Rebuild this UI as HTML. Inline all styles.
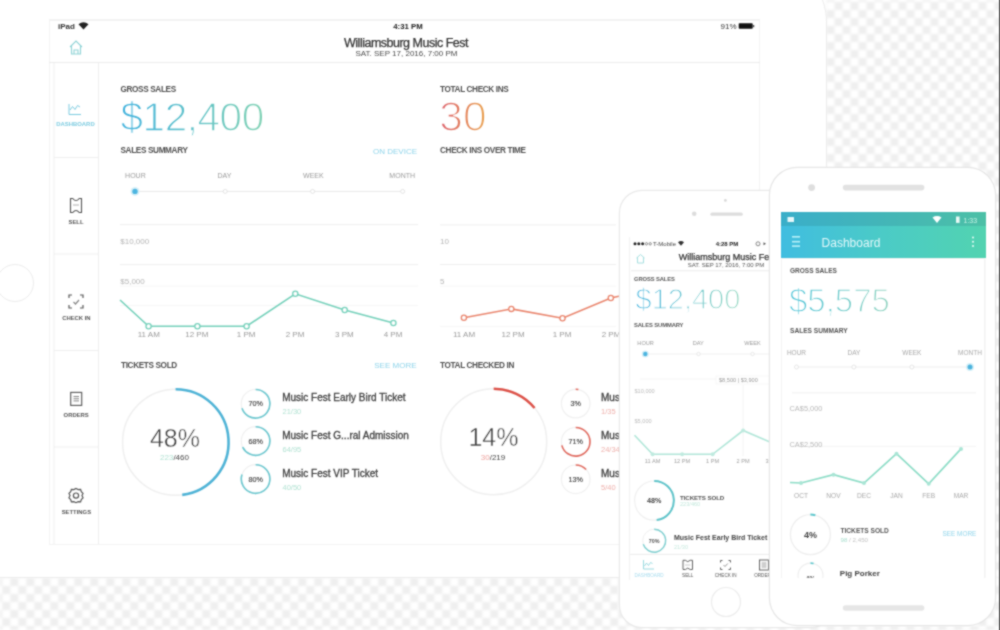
<!DOCTYPE html>
<html><head><meta charset="utf-8">
<style>
*{box-sizing:border-box;margin:0;padding:0}
html,body{width:1000px;height:630px;overflow:hidden;background:#fff}
body{position:relative;font-family:"Liberation Sans",sans-serif;color:#444}
.ck{position:absolute;background:repeating-conic-gradient(#efefef 0 25%,#fff 0 50%);background-size:16px 16px;filter:blur(0.9px)}
.ipad{position:absolute;left:-80px;top:-40px;width:906px;height:617px;background:#fff;border-radius:62px;box-shadow:0 0 0 1px #ececec}
.ipad-home{position:absolute;left:-4px;top:264px;width:38px;height:38px;border-radius:50%;border:1.5px solid #ececec}
.screen{position:absolute;left:49px;top:18.5px;width:711px;height:526px;background:#fff;border:1px solid #f3f3f3;border-top:2px solid #f3f3f3}
svg{position:absolute;left:0;top:0;overflow:visible}
text{font-family:"Liberation Sans",sans-serif}
.lb{font-size:8.2px;font-weight:bold;fill:#505050;letter-spacing:-0.35px}
.ax{font-size:8px;fill:#b5b5b5}
.xl{font-size:8px;fill:#9a9a9a;text-anchor:middle}
.sl{font-size:7px;fill:#9a9a9a;text-anchor:middle}
.nav{font-size:5.9px;font-weight:bold;fill:#555;text-anchor:middle}
</style></head><body><svg width="0" height="0" style="position:absolute"><filter id="soft" x="0" y="0" width="1" height="1" color-interpolation-filters="sRGB"><feConvolveMatrix order="3" kernelMatrix="1 2 1 2 8 2 1 2 1" divisor="20" edgeMode="duplicate"/></filter></svg>
<div id="root" style="position:absolute;left:0;top:0;width:1000px;height:630px;overflow:hidden;filter:url(#soft)">
<div class="ck" style="left:826px;top:0;width:174px;height:630px;background-position:0.5px 2px"></div>
<div class="ck" style="left:0;top:577px;width:1000px;height:53px;background-position:2.4px 1px"></div>
<div class="ipad"></div>
<div class="ipad-home"></div>
<div class="screen"></div>

<svg width="1000" height="630" viewBox="0 0 1000 630">
<defs>
 <linearGradient id="gBlue" x1="0" x2="1" y1="0" y2="0"><stop offset="0" stop-color="#3fb1dd"/><stop offset="1" stop-color="#7fd1b3"/></linearGradient>
 <linearGradient id="gBlueI" x1="0" x2="1" y1="0" y2="0"><stop offset="0" stop-color="#3fb1dd"/><stop offset="1" stop-color="#8fd5bd"/></linearGradient>
 <linearGradient id="gRed" x1="0" x2="1" y1="0" y2="0"><stop offset="0" stop-color="#dc5f6c"/><stop offset="1" stop-color="#e9a24e"/></linearGradient>
</defs>
<!-- status bar -->
<text x="58" y="29" style="font-size:8px;font-weight:bold;fill:#333">iPad</text>
<path d="M78.5 24.2 Q83.5 20.5 88.5 24.2 L83.5 29.5 Z" fill="#222"/>
<text x="408" y="28.8" style="font-size:7.8px;font-weight:bold;fill:#222;text-anchor:middle">4:31 PM</text>
<text x="720.5" y="28.6" style="font-size:8px;fill:#333">91%</text>
<rect x="738.7" y="23.3" width="14" height="5.5" rx="0.8" fill="#111"/>
<rect x="752.8" y="25" width="1.5" height="2.2" fill="#555"/>
<!-- header -->
<g fill="none" stroke="#8fd3d6" stroke-width="1.1">
 <path d="M70 47 L76 41 L82 47 M71.5 45.5 V54 H80.5 V45.5 M74 54 V50 H78 V54"/>
</g>
<text x="406" y="46.8" style="font-size:12.5px;fill:#333;stroke:#333;stroke-width:0.25px;text-anchor:middle;letter-spacing:-0.5px">Williamsburg Music Fest</text>
<text x="406.5" y="56.2" style="font-size:8px;fill:#4a4a4a;text-anchor:middle">SAT. SEP 17, 2016, 7:00 PM</text>
<line x1="49" y1="62.5" x2="760" y2="62.5" stroke="#ececec" stroke-width="1.2"/>
<!-- sidebar -->
<line x1="98.5" y1="63" x2="98.5" y2="544" stroke="#eeeeee" stroke-width="1"/>
<line x1="54" y1="63" x2="54" y2="544" stroke="#efefef" stroke-width="1"/>
<g stroke="#efefef" stroke-width="1">
 <line x1="54" y1="157.5" x2="98" y2="157.5"/>
 <line x1="54" y1="254" x2="98" y2="254"/>
 <line x1="54" y1="350.5" x2="98" y2="350.5"/>
 <line x1="54" y1="447" x2="98" y2="447"/>
</g>
<!-- dashboard icon -->
<g fill="none" stroke="#7ccbe0" stroke-width="1">
 <path d="M69 104 V114.5 H81"/>
 <path d="M70 110 L72.5 106.5 L75 109.5 L77.5 105.5 L80 107"/>
</g>
<text x="75.5" y="126.3" class="nav" style="fill:#7ccbe0">DASHBOARD</text>
<!-- sell icon -->
<path d="M70.5 198.5 H72.8 Q76 202.6 79.2 198.5 H81.5 V212.5 H79.2 Q76 208.4 72.8 212.5 H70.5 Z" fill="none" stroke="#555" stroke-width="1.1"/>
<line x1="73" y1="205" x2="79" y2="205" stroke="#999" stroke-width="0.8"/>
<text x="76" y="223.6" class="nav">SELL</text>
<!-- check in icon -->
<g fill="none" stroke="#555" stroke-width="1.2">
 <path d="M69 298 V295 H72 M80 295 H83 V298 M83 305 V308 H80 M72 308 H69 V305"/>
 <path d="M73.5 302 L75.5 304 L79 300" stroke="#888"/>
</g>
<text x="76.4" y="320.3" class="nav">CHECK IN</text>
<!-- orders icon -->
<rect x="70.7" y="392.4" width="11" height="13" fill="none" stroke="#555" stroke-width="1.1"/>
<g stroke="#777" stroke-width="0.9"><line x1="73.5" y1="396.5" x2="79" y2="396.5"/><line x1="73.5" y1="398.7" x2="79" y2="398.7"/><line x1="73.5" y1="400.9" x2="79" y2="400.9"/></g>
<text x="76.2" y="417" class="nav">ORDERS</text>
<!-- settings icon -->
<g fill="none" stroke="#555" stroke-width="1.2">
 <path d="M76 488.5 L78.2 489.6 L80.6 489.4 L81.3 491.7 L83 493.4 L82 495.6 L83 497.8 L81.3 499.5 L80.6 501.8 L78.2 501.6 L76 502.7 L73.8 501.6 L71.4 501.8 L70.7 499.5 L69 497.8 L70 495.6 L69 493.4 L70.7 491.7 L71.4 489.4 L73.8 489.6 Z"/>
 <circle cx="76" cy="495.6" r="2.6"/>
</g>
<text x="76.4" y="514.3" class="nav">SETTINGS</text>

<!-- GROSS SALES -->
<text x="120.5" y="91.6" class="lb">GROSS SALES</text>
<text x="120.5" y="130.5" style="font-size:40.5px;fill:url(#gBlue);stroke:#fff;stroke-width:1.3px;letter-spacing:-0.45px">$12,400</text>
<text x="120.5" y="152.9" class="lb">SALES SUMMARY</text>
<text x="417" y="153.6" style="font-size:8px;fill:#8fd4ea;text-anchor:end">ON DEVICE</text>
<!-- slider -->
<text x="135.4" y="178" class="sl">HOUR</text>
<text x="224.4" y="178" class="sl">DAY</text>
<text x="313.4" y="178" class="sl">WEEK</text>
<text x="402.2" y="178" class="sl">MONTH</text>
<line x1="135" y1="191.4" x2="403" y2="191.4" stroke="#e8e8e8" stroke-width="1"/>
<circle cx="225.2" cy="191.4" r="2" fill="#fff" stroke="#ddd" stroke-width="0.8"/>
<circle cx="312.6" cy="191.4" r="2" fill="#fff" stroke="#ddd" stroke-width="0.8"/>
<circle cx="402.7" cy="191.4" r="2" fill="#fff" stroke="#ddd" stroke-width="0.8"/>
<circle cx="135" cy="191.4" r="4.5" fill="#d8f0f8"/>
<circle cx="135" cy="191.4" r="2.7" fill="#4db5e0"/>
<!-- chart 1 -->
<g stroke="#efefef" stroke-width="1">
 <line x1="120" y1="224.6" x2="418" y2="224.6"/>
 <line x1="120" y1="264.6" x2="418" y2="264.6"/>
 <line x1="120" y1="286" x2="418" y2="286" stroke="#f6f6f6"/>
 <line x1="120" y1="305.5" x2="418" y2="305.5" stroke="#f6f6f6"/>
</g>
<text x="120.3" y="244" class="ax">$10,000</text>
<text x="120.3" y="284" class="ax">$5,000</text>
<polyline points="120,300 148.6,326.3 197.4,326.3 246.6,326.2 295.3,293.8 344.7,310 393.4,323" fill="none" stroke="#74d0ba" stroke-width="1.6"/>
<g fill="#fff" stroke="#74d0ba" stroke-width="1.3">
 <circle cx="148.6" cy="326.3" r="2.6"/><circle cx="197.4" cy="326.3" r="2.6"/><circle cx="246.6" cy="326.2" r="2.6"/>
 <circle cx="295.3" cy="293.8" r="2.6"/><circle cx="344.7" cy="310" r="2.6"/><circle cx="393.4" cy="323" r="2.6"/>
</g>
<text x="148.8" y="336.8" class="xl">11 AM</text>
<text x="196.8" y="336.8" class="xl">12 PM</text>
<text x="246.2" y="336.8" class="xl">1 PM</text>
<text x="295" y="336.8" class="xl">2 PM</text>
<text x="344.3" y="336.8" class="xl">3 PM</text>
<text x="393" y="336.8" class="xl">4 PM</text>

<!-- TOTAL CHECK INS -->
<text x="440" y="91.8" class="lb">TOTAL CHECK INS</text>
<text x="439.3" y="130.8" style="font-size:42.5px;fill:url(#gRed);stroke:#fff;stroke-width:1.6px">30</text>
<text x="440" y="152.9" class="lb">CHECK INS OVER TIME</text>
<!-- chart 2 -->
<g stroke="#efefef" stroke-width="1">
 <line x1="440" y1="224.9" x2="616" y2="224.9"/>
 <line x1="440" y1="264.5" x2="616" y2="264.5"/>
 <line x1="440" y1="286.2" x2="616" y2="286.2" stroke="#f6f6f6"/>
 <line x1="440" y1="326.4" x2="616" y2="326.4" stroke="#f6f6f6"/>
</g>
<text x="440" y="244.2" class="ax">10</text>
<text x="440" y="284.2" class="ax">5</text>
<polyline points="463.9,317.7 511.3,308.9 562.5,318.2 610.8,298 620,296" fill="none" stroke="#e9846c" stroke-width="1.6"/>
<g fill="#fff" stroke="#e9846c" stroke-width="1.3">
 <circle cx="463.9" cy="317.7" r="2.6"/><circle cx="511.3" cy="308.9" r="2.6"/><circle cx="562.5" cy="318.2" r="2.6"/><circle cx="610.8" cy="298" r="2.6"/>
</g>
<text x="464" y="337" class="xl">11 AM</text>
<text x="513" y="337" class="xl">12 PM</text>
<text x="562" y="337" class="xl">1 PM</text>
<text x="611" y="337" class="xl">2 PM</text>

<!-- TICKETS SOLD -->
<text x="121" y="367.8" class="lb">TICKETS SOLD</text>
<text x="416.5" y="368.3" style="font-size:8px;fill:#8fd4ea;text-anchor:end">SEE MORE</text>
<circle cx="175.6" cy="442.3" r="53" fill="none" stroke="#efefef" stroke-width="1.5"/>
<path id="arcA" d="M175.60 389.30 A53 53 0 0 1 182.24 494.88" fill="none" stroke="#4fb3d6" stroke-width="2.6"/>
<text x="175" y="446.5" style="font-size:25px;fill:#3a3a3a;text-anchor:middle;stroke:#fff;stroke-width:0.5px">48%</text>
<text x="174.5" y="460.4" style="font-size:8px;fill:#444;text-anchor:middle"><tspan fill="#b3e2d3">223</tspan>/460</text>
<g id="smallA">
<circle cx="255.6" cy="403.8" r="14.3" fill="none" stroke="#f0f0f0" stroke-width="1.2"/><path d="M255.60 389.50 A14.3 14.3 0 1 1 242.00 408.22" fill="none" stroke="#6cc7cf" stroke-width="1.6"/><text x="255.6" y="406.4" style="font-size:7.2px;fill:#444;stroke:#444;stroke-width:0.15px;text-anchor:middle">70%</text>
<circle cx="255.6" cy="441" r="14.3" fill="none" stroke="#f0f0f0" stroke-width="1.2"/><path d="M255.60 426.70 A14.3 14.3 0 1 1 242.66 447.09" fill="none" stroke="#6cc7cf" stroke-width="1.6"/><text x="255.6" y="443.6" style="font-size:7.2px;fill:#444;stroke:#444;stroke-width:0.15px;text-anchor:middle">68%</text>
<circle cx="255.6" cy="479" r="14.3" fill="none" stroke="#f0f0f0" stroke-width="1.2"/><path d="M255.60 464.70 A14.3 14.3 0 1 1 242.00 474.58" fill="none" stroke="#6cc7cf" stroke-width="1.6"/><text x="255.6" y="481.6" style="font-size:7.2px;fill:#444;stroke:#444;stroke-width:0.15px;text-anchor:middle">80%</text>
</g>
<g style="font-size:10px;fill:#404040;stroke:#404040;stroke-width:0.3px">
 <text x="282.2" y="401.3">Music Fest Early Bird Ticket</text>
 <text x="282.2" y="439">Music Fest G...ral Admission</text>
 <text x="282.2" y="477.1">Music Fest VIP Ticket</text>
</g>
<g style="font-size:7.5px;fill:#b3e2d3">
 <text x="282.5" y="414.3">21/30</text>
 <text x="282.5" y="452">64/95</text>
 <text x="282.5" y="490">40/50</text>
</g>

<!-- TOTAL CHECKED IN -->
<text x="440" y="367.8" class="lb">TOTAL CHECKED IN</text>
<circle cx="493.7" cy="441.8" r="53" fill="none" stroke="#efefef" stroke-width="1.5"/>
<path id="arcB" d="M493.70 388.80 A53 53 0 0 1 534.54 408.02" fill="none" stroke="#dc5148" stroke-width="2.6"/>
<text x="493.5" y="446" style="font-size:25px;fill:#3a3a3a;text-anchor:middle;stroke:#fff;stroke-width:0.5px">14%</text>
<text x="493" y="460" style="font-size:8px;fill:#444;text-anchor:middle"><tspan fill="#eea5a0">30</tspan>/219</text>
<g id="smallB">
<circle cx="575.7" cy="403.6" r="14.3" fill="none" stroke="#f0f0f0" stroke-width="1.2"/><path d="M575.70 389.30 A14.3 14.3 0 0 1 578.38 389.55" fill="none" stroke="#e0695e" stroke-width="1.6"/><text x="575.7" y="406.2" style="font-size:7.2px;fill:#444;stroke:#444;stroke-width:0.15px;text-anchor:middle">3%</text>
<circle cx="575.7" cy="441.8" r="14.3" fill="none" stroke="#f0f0f0" stroke-width="1.2"/><path d="M575.70 427.50 A14.3 14.3 0 1 1 561.85 445.36" fill="none" stroke="#e0695e" stroke-width="1.6"/><text x="575.7" y="444.4" style="font-size:7.2px;fill:#444;stroke:#444;stroke-width:0.15px;text-anchor:middle">71%</text>
<circle cx="575.7" cy="479.3" r="14.3" fill="none" stroke="#f0f0f0" stroke-width="1.2"/><path d="M575.70 465.00 A14.3 14.3 0 0 1 586.12 469.51" fill="none" stroke="#e0695e" stroke-width="1.6"/><text x="575.7" y="481.9" style="font-size:7.2px;fill:#444;stroke:#444;stroke-width:0.15px;text-anchor:middle">13%</text>
</g>
<g style="font-size:10px;fill:#404040;stroke:#404040;stroke-width:0.3px">
 <text x="601" y="401.3">Music Fest Early Bird Ticket</text>
 <text x="601" y="439">Music Fest General Admission</text>
 <text x="601" y="477.1">Music Fest VIP Ticket</text>
</g>
<g style="font-size:7.5px;fill:#eeb0ab">
 <text x="601" y="414.3">1/35</text>
 <text x="601" y="452">24/34</text>
 <text x="601" y="490">5/40</text>
</g>
</svg>

<!-- ================= iPhone ================= -->
<div style="position:absolute;left:619.5px;top:190.8px;width:213px;height:436px;background:#fff;border-radius:22px;box-shadow:0 0 0 1.2px #e9e9e9"></div>
<svg width="1000" height="630" viewBox="0 0 1000 630">
<defs><clipPath id="cpI"><rect x="629.5" y="236" width="140" height="344"/></clipPath></defs>
<circle cx="725.4" cy="200.4" r="1.4" fill="#d8d8d8"/>
<circle cx="694.2" cy="213.8" r="2.3" fill="#dcdcdc"/>
<rect x="710.4" y="212.6" width="32.4" height="3.2" rx="1.6" fill="#dddddd"/>
<circle cx="726" cy="602" r="14.5" fill="none" stroke="#ececec" stroke-width="1.2"/>
<line x1="629.5" y1="237" x2="629.5" y2="580" stroke="#f2f2f2" stroke-width="1"/>
<g clip-path="url(#cpI)">
 <!-- status -->
 <g fill="#222"><circle cx="635" cy="243.8" r="1.5"/><circle cx="638.8" cy="243.8" r="1.5"/><circle cx="642.6" cy="243.8" r="1.5"/></g>
 <g fill="none" stroke="#444" stroke-width="0.6"><circle cx="646.4" cy="243.8" r="1.2"/><circle cx="650.2" cy="243.8" r="1.2"/></g>
 <text x="653" y="246" style="font-size:6px;fill:#444">T-Mobile</text>
 <path d="M678 242.2 Q681 240 684 242.2 L681 245.8 Z" fill="#333"/>
 <text x="727" y="246" style="font-size:6px;font-weight:bold;fill:#222;text-anchor:middle">4:28 PM</text>
 <circle cx="758" cy="243.8" r="2" fill="none" stroke="#555" stroke-width="0.7"/>
 <path d="M763.5 242.3 L766 243.8 L763.5 245.3" fill="#555"/>
 <!-- header -->
 <path d="M636.5 258 L640.5 254.5 L644.5 258 M637.5 257 V263 H643.5 V257" fill="none" stroke="#a6dfe0" stroke-width="1"/>
 <text x="727.5" y="260" style="font-size:9px;fill:#333;stroke:#333;stroke-width:0.25px;text-anchor:middle">Williamsburg Music Fest</text>
 <text x="726" y="267.2" style="font-size:6px;fill:#555;text-anchor:middle">SAT. SEP 17, 2016, 7:00 PM</text>
 <line x1="631" y1="270.8" x2="770" y2="270.8" stroke="#ececec" stroke-width="1"/>
 <!-- gross -->
 <text x="634" y="280.8" style="font-size:5.8px;font-weight:bold;fill:#555;letter-spacing:-0.1px">GROSS SALES</text>
 <text x="635.5" y="309" style="font-size:29px;fill:url(#gBlueI);stroke:#fff;stroke-width:1.3px">$12,400</text>
 <text x="634" y="327" style="font-size:5.8px;font-weight:bold;fill:#555;letter-spacing:-0.1px">SALES SUMMARY</text>
 <g style="font-size:5.6px;fill:#9a9a9a;text-anchor:middle"><text x="645.6" y="344.5">HOUR</text><text x="698.2" y="344.5">DAY</text><text x="752.5" y="344.5">WEEK</text></g>
 <line x1="645" y1="354" x2="770" y2="354" stroke="#eeeeee" stroke-width="0.8"/>
 <circle cx="698.5" cy="354" r="1.7" fill="#fff" stroke="#e0e0e0" stroke-width="0.7"/>
 <circle cx="752.5" cy="354" r="1.7" fill="#fff" stroke="#e0e0e0" stroke-width="0.7"/>
 <circle cx="645.3" cy="354" r="3.6" fill="#d8f0f8"/><circle cx="645.3" cy="354" r="2.2" fill="#4db5e0"/>
 <!-- chart -->
 <line x1="640" y1="379" x2="770" y2="379" stroke="#f2f2f2" stroke-width="0.8"/>
 <rect x="716" y="376" width="55" height="8" fill="#fff" stroke="#f0f0f0" stroke-width="0.6"/>
 <text x="719" y="382.3" style="font-size:5.6px;fill:#999">$8,500 | $3,900</text>
 <text x="634.5" y="393.4" style="font-size:5.6px;fill:#bbb">$10,000</text>
 <text x="634.5" y="423.3" style="font-size:5.6px;fill:#bbb">$5,000</text>
 <line x1="743.1" y1="385" x2="743.1" y2="456" stroke="#f0f0f0" stroke-width="0.8"/>
 <polyline points="634.5,435.2 652.6,454.3 682.1,454.3 712.6,454.3 743.1,430.5 770,442" fill="none" stroke="#b0e6d8" stroke-width="1.6"/>
 <g fill="#bfeadf"><circle cx="652.6" cy="454.3" r="2"/><circle cx="682.1" cy="454.3" r="2"/><circle cx="712.6" cy="454.3" r="2"/><circle cx="743.1" cy="430.5" r="2"/></g>
 <g style="font-size:5.6px;fill:#a0a0a0;text-anchor:middle"><text x="652.6" y="462.6">11 AM</text><text x="682.1" y="462.6">12 PM</text><text x="712.6" y="462.6">1 PM</text><text x="743.1" y="462.6">2 PM</text><text x="772" y="462.6">3 PM</text></g>
 <!-- tickets -->
 <circle cx="654.2" cy="500.6" r="19.6" fill="none" stroke="#f0f0f0" stroke-width="1.2"/>
 <path d="M654.20 481.00 A19.6 19.6 0 0 1 656.66 520.05" fill="none" stroke="#5ec3c9" stroke-width="2"/>
 <text x="654.2" y="503.2" style="font-size:7.2px;font-weight:bold;fill:#444;text-anchor:middle">48%</text>
 <text x="680" y="499.5" style="font-size:6.2px;font-weight:bold;fill:#555;letter-spacing:-0.1px">TICKETS SOLD</text>
 <text x="680" y="506.3" style="font-size:5.6px;fill:#c3e8dc">223/460</text>
 <circle cx="654.2" cy="540.7" r="11.5" fill="none" stroke="#f0f0f0" stroke-width="1"/>
 <path d="M654.20 529.20 A11.5 11.5 0 1 1 643.26 544.25" fill="none" stroke="#7fcfd0" stroke-width="1.4"/>
 <text x="654.2" y="542.7" style="font-size:5.4px;font-weight:bold;fill:#555;text-anchor:middle">70%</text>
 <text x="674" y="539.8" style="font-size:7px;font-weight:bold;fill:#444">Music Fest Early Bird Ticket</text>
 <text x="674" y="548.6" style="font-size:5.6px;fill:#c9e9df">21/30</text>
 <!-- tabbar -->
 <line x1="630" y1="554.4" x2="770" y2="554.4" stroke="#ececec" stroke-width="1"/>
 <g fill="none" stroke="#8fd6dc" stroke-width="0.9"><path d="M643.5 560 V569 H654"/><path d="M644.5 566 L646.5 563 L648.5 565.5 L650.5 562.5 L652.5 563.5"/></g>
 <text x="649" y="577" style="font-size:4.6px;fill:#a8dcee;text-anchor:middle">DASHBOARD</text>
 <path d="M683 560.3 H685.3 Q687.75 563 690.2 560.3 H692.5 V569.5 H690.2 Q687.75 566.8 685.3 569.5 H683 Z" fill="none" stroke="#555" stroke-width="0.9"/><line x1="685" y1="565" x2="690.5" y2="565" stroke="#aaa" stroke-width="0.6"/>
 <text x="687.7" y="577" style="font-size:4.6px;fill:#555;text-anchor:middle">SELL</text>
 <g fill="none" stroke="#555" stroke-width="0.9"><path d="M720.5 562.5 V560.5 H722.5 M728.5 560.5 H730.5 V562.5 M730.5 567.5 V569.5 H728.5 M722.5 569.5 H720.5 V567.5"/><path d="M723.5 565 L725 566.5 L727.8 563.5" stroke="#888"/></g>
 <text x="725.7" y="577" style="font-size:4.6px;fill:#555;text-anchor:middle">CHECK IN</text>
 <rect x="759.5" y="560" width="9" height="10" fill="none" stroke="#555" stroke-width="0.9"/>
 <g stroke="#777" stroke-width="0.7"><line x1="761.5" y1="563" x2="766.5" y2="563"/><line x1="761.5" y1="565" x2="766.5" y2="565"/><line x1="761.5" y1="567" x2="766.5" y2="567"/></g>
 <text x="764" y="577" style="font-size:4.6px;fill:#555;text-anchor:middle">ORDERS</text>
</g>
</svg>

<!-- ================= Android ================= -->
<div style="position:absolute;left:769.6px;top:168.4px;width:225.6px;height:456.4px;background:#fff;border-radius:27px;box-shadow:0 0 0 1.2px #e6e6e6"></div>
<div style="position:absolute;left:780.5px;top:212.3px;width:205.3px;height:365.7px;background:#f8f8f8;overflow:hidden">
 <div style="position:absolute;left:0;top:0;width:100%;height:13.6px;background:linear-gradient(90deg,#3aaec9,#45b7b4 60%,#4cc0a6)"></div>
 <div style="position:absolute;left:0;top:13.6px;width:100%;height:31.9px;background:linear-gradient(90deg,#40bde0,#4bcbc6 50%,#52d3b0)"></div>
 <div style="position:absolute;left:1.5px;top:47px;width:202.3px;height:330px;background:#fff;box-shadow:0 0 1px rgba(0,0,0,0.12)"></div>
</div>
<svg width="1000" height="630" viewBox="0 0 1000 630">
<defs>
 <clipPath id="cpA"><rect x="780.5" y="212.3" width="205.3" height="365.7"/></clipPath>
 <linearGradient id="gBlueA" x1="0" x2="1" y1="0" y2="0"><stop offset="0" stop-color="#4cc3d8"/><stop offset="1" stop-color="#8fd2be"/></linearGradient>
</defs>
<circle cx="811.6" cy="187.6" r="3.4" fill="#dedede"/>
<rect x="842.8" y="184.8" width="81.6" height="5.6" rx="2.8" fill="#e2e2e2"/>
<rect x="842.8" y="605.2" width="81.6" height="5.6" rx="2.8" fill="#e6e6e6"/>
<g clip-path="url(#cpA)">
 <!-- status bar -->
 <rect x="787.5" y="217" width="6.5" height="5" rx="0.5" fill="#e6f7fa"/>
 <path d="M932.5 217.5 Q937 214.6 941.5 217.5 L937 223 Z" fill="#fff"/>
 <rect x="956" y="216.5" width="3.6" height="6.4" fill="#e9f9f5"/>
 <text x="963.5" y="222.8" style="font-size:7px;fill:#c8f4e6">1:33</text>
 <!-- toolbar -->
 <g fill="#b8f0f8"><rect x="792" y="236" width="8" height="1.6"/><rect x="792" y="240.9" width="8" height="1.6"/><rect x="792" y="245.3" width="8" height="1.6"/></g>
 <text x="821.6" y="246.8" style="font-size:12px;fill:#e3f8fa">Dashboard</text>
 <g fill="#eefcf8"><circle cx="973" cy="237.5" r="1"/><circle cx="973" cy="241.8" r="1"/><circle cx="973" cy="246.1" r="1"/></g>
 <!-- gross -->
 <text x="790" y="273" style="font-size:6.5px;font-weight:bold;fill:#555">GROSS SALES</text>
 <text x="789" y="311.7" style="font-size:33px;fill:url(#gBlueA);stroke:#fff;stroke-width:1.4px">$5,575</text>
 <text x="790" y="332.5" style="font-size:6.6px;font-weight:bold;fill:#555">SALES SUMMARY</text>
 <g style="font-size:6.5px;fill:#a8a8a8;text-anchor:middle"><text x="796.5" y="355.3">HOUR</text><text x="853.9" y="355.3">DAY</text><text x="911.9" y="355.3">WEEK</text><text x="970" y="355.3">MONTH</text></g>
 <line x1="796.5" y1="367" x2="970" y2="367" stroke="#ececec" stroke-width="0.9"/>
 <g fill="#fff" stroke="#e0e0e0" stroke-width="0.8"><circle cx="796.5" cy="367" r="2"/><circle cx="853.9" cy="367" r="2"/><circle cx="911.9" cy="367" r="2"/></g>
 <circle cx="970" cy="367" r="4" fill="#d6f0f8"/><circle cx="970" cy="367" r="2.5" fill="#4cb3dd"/>
 <!-- chart -->
 <line x1="792" y1="392.8" x2="976" y2="392.8" stroke="#f0f0f0" stroke-width="1"/>
 <line x1="792" y1="446.4" x2="976" y2="446.4" stroke="#f4f4f4" stroke-width="1"/>
 <text x="789.5" y="410.8" style="font-size:7.4px;fill:#b8b8b8">CA$5,000</text>
 <text x="789.5" y="446.9" style="font-size:7.4px;fill:#b8b8b8">CA$2,500</text>
 <polyline points="790,482.5 801,483 833.5,474.7 864,483.1 896.5,453.7 928.7,483.8 961,448.9" fill="none" stroke="#8cdcc6" stroke-width="1.7"/>
 <g fill="#a9e5d5"><circle cx="801" cy="483" r="2"/><circle cx="833.5" cy="474.7" r="2"/><circle cx="864" cy="483.1" r="2"/><circle cx="896.5" cy="453.7" r="2"/><circle cx="928.7" cy="483.8" r="2"/><circle cx="961" cy="448.9" r="2"/></g>
 <g style="font-size:6.6px;fill:#a8a8a8;text-anchor:middle"><text x="801" y="497.7">OCT</text><text x="833.5" y="497.7">NOV</text><text x="864" y="497.7">DEC</text><text x="896.5" y="497.7">JAN</text><text x="928.7" y="497.7">FEB</text><text x="961" y="497.7">MAR</text></g>
 <!-- tickets -->
 <circle cx="810.4" cy="534.6" r="20" fill="none" stroke="#eeeeee" stroke-width="1.3"/>
 <path d="M810.40 514.60 A20 20 0 0 1 815.37 515.23" fill="none" stroke="#5cc6cc" stroke-width="2"/>
 <text x="810.4" y="537.8" style="font-size:9px;font-weight:bold;fill:#444;text-anchor:middle">4%</text>
 <text x="840.5" y="532.6" style="font-size:6.6px;font-weight:bold;fill:#555">TICKETS SOLD</text>
 <text x="840.5" y="541.6" style="font-size:6.2px;fill:#c2c2c2"><tspan fill="#a8dece">98</tspan> / 2,450</text>
 <text x="976.3" y="536.4" style="font-size:6.4px;fill:#8fd4ea;text-anchor:end">SEE MORE</text>
 <circle cx="810.5" cy="575.6" r="12.5" fill="none" stroke="#eeeeee" stroke-width="1.1"/>
 <path d="M810.50 563.10 A12.5 12.5 0 0 1 813.61 563.49" fill="none" stroke="#5cc6cc" stroke-width="1.6"/>
 <text x="810.5" y="580.5" style="font-size:6.5px;font-weight:bold;fill:#555;text-anchor:middle">4%</text>
 <text x="839.8" y="576" style="font-size:8px;font-weight:bold;fill:#444">Pig Porker</text>
</g>
</svg>
<div style="position:absolute;left:998.6px;top:0;width:1.4px;height:630px;background:#4a4a4a"></div>
</div>
</body></html>
